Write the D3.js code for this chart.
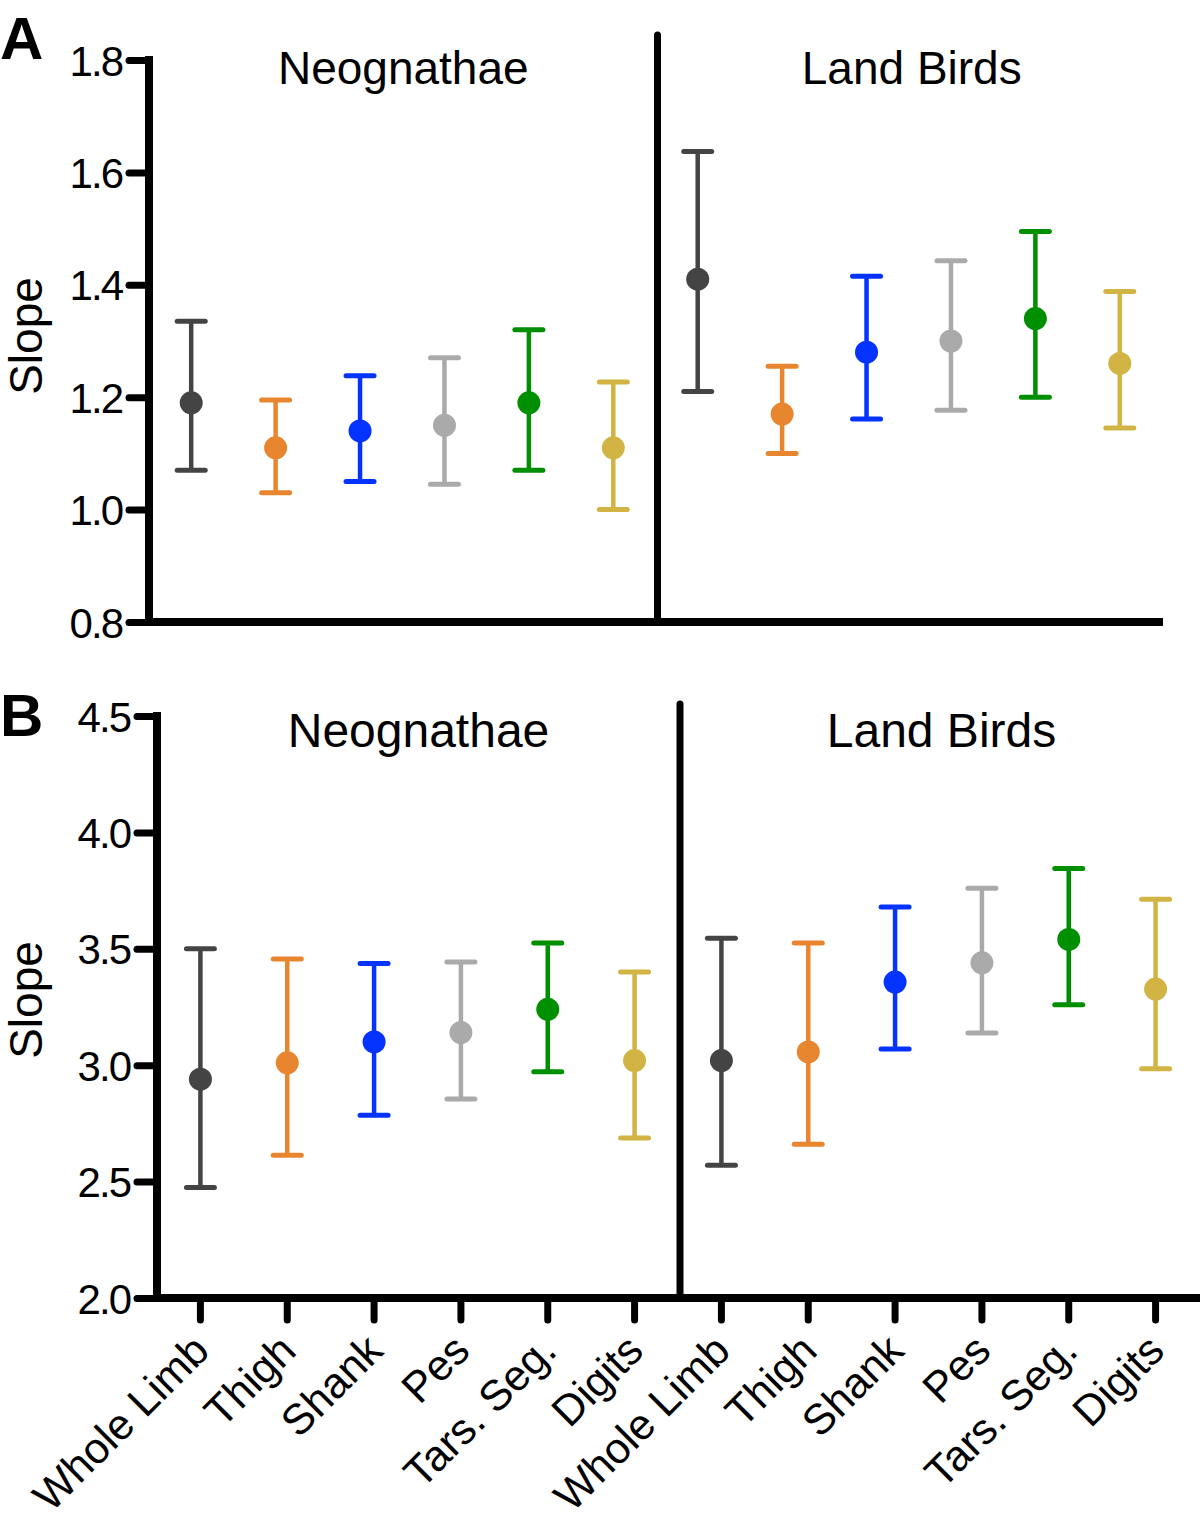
<!DOCTYPE html>
<html>
<head>
<meta charset="utf-8">
<script src="https://cdn.jsdelivr.net/npm/d3@7"></script>
<style>
  html, body { margin: 0; padding: 0; background: #fff; }
  svg { display: block; font-family: "Liberation Sans", Arial, Helvetica, sans-serif; }
</style>
</head>
<body>
<svg id="chart" width="1200" height="1519"></svg>
<script>
// ---------------- DATA ----------------
const categories = ["Whole Limb", "Thigh", "Shank", "Pes", "Tars. Seg.", "Digits"];
const groups = ["Neognathae", "Land Birds"];
const colors = ["#444444", "#E8862F", "#0433FF", "#AAAAAA", "#008F00", "#D2B445"];

// Panel A (slope, lower CI, upper CI)
const aNeoMean  = [1.19, 1.11, 1.14, 1.15, 1.19, 1.11];
const aNeoLow   = [1.07, 1.03, 1.05, 1.045, 1.07, 1.00];
const aNeoHigh  = [1.335, 1.195, 1.238, 1.27, 1.32, 1.227];
const aLandMean = [1.41, 1.17, 1.28, 1.30, 1.34, 1.26];
const aLandLow  = [1.21, 1.10, 1.161, 1.177, 1.20, 1.145];
const aLandHigh = [1.637, 1.255, 1.415, 1.443, 1.495, 1.388];
const aTicks = [0.8, 1.0, 1.2, 1.4, 1.6, 1.8];

// Panel B
const bNeoMean  = [2.94, 3.01, 3.10, 3.14, 3.24, 3.02];
const bNeoLow   = [2.475, 2.613, 2.785, 2.855, 2.972, 2.687];
const bNeoHigh  = [3.50, 3.456, 3.437, 3.443, 3.525, 3.40];
const bLandMean = [3.02, 3.057, 3.357, 3.44, 3.54, 3.327];
const bLandLow  = [2.57, 2.66, 3.07, 3.138, 3.26, 2.985];
const bLandHigh = [3.545, 3.525, 3.68, 3.76, 3.845, 3.713];
const bTicks = [2.0, 2.5, 3.0, 3.5, 4.0, 4.5];

// ---------------- DRAW ----------------
const svg = d3.select("#chart");
const allCats = [];
groups.forEach(g => categories.forEach(c => allCats.push(g + "|" + c)));

function buildRows(means, lows, highs, group) {
  return categories.map((c, i) => ({
    key: group + "|" + c, cat: c, color: colors[i],
    mean: means[i], low: lows[i], high: highs[i]
  }));
}

function panel(opts) {
  const { left, right, top, bottom, domain, ticks, rows, letter, letterY,
          titleY, dividerTop, titleSize, showX, axisRight, slopeY } = opts;
  const g = svg.append("g");
  const x = d3.scaleBand().domain(allCats).range([left, right]).padding(0);
  const y = d3.scaleLinear().domain(domain).range([bottom, top]);

  // y axis
  const yAxis = d3.axisLeft(y).tickValues(ticks).tickFormat(d3.format(".1f"))
    .tickSize(20).tickPadding(7);
  const ya = g.append("g").attr("transform", `translate(${left},0)`).call(yAxis);
  ya.select(".domain").remove();
  ya.selectAll(".tick line").attr("stroke", "#000").attr("stroke-width", 7)
    .attr("stroke-linecap", "round");
  ya.selectAll(".tick text").attr("font-size", 42).attr("fill", "#000")
    .attr("letter-spacing", "-2px").attr("dy", "0.36em");
  g.append("line").attr("x1", left).attr("x2", left)
    .attr("y1", top - 4).attr("y2", bottom + 4)
    .attr("stroke", "#000").attr("stroke-width", 8);

  // x axis line
  g.append("line").attr("x1", left - 4).attr("x2", axisRight)
    .attr("y1", bottom).attr("y2", bottom)
    .attr("stroke", "#000").attr("stroke-width", 8);

  // divider between groups
  const divX = x(groups[1] + "|" + categories[0]) + 2;
  g.append("line").attr("x1", divX).attr("x2", divX)
    .attr("y1", dividerTop).attr("y2", bottom)
    .attr("stroke", "#000").attr("stroke-width", 7).attr("stroke-linecap", "round");

  // group titles
  groups.forEach((grp, gi) => {
    const x0 = gi === 0 ? left : divX;
    const x1 = gi === 0 ? divX : right;
    g.append("text").attr("x", (x0 + x1) / 2 + (gi === 0 ? 0 : 2)).attr("y", titleY)
      .attr("text-anchor", "middle").attr("font-size", titleSize)
      .attr("fill", "#000").text(grp);
  });

  // y label
  g.append("text")
    .attr("transform", `translate(42,${slopeY}) rotate(-90)`)
    .attr("text-anchor", "middle").attr("font-size", 46).attr("fill", "#000")
    .text("Slope");

  // panel letter
  g.append("text").attr("x", 0).attr("y", letterY)
    .attr("font-size", 60).attr("font-weight", "bold").attr("fill", "#000")
    .text(letter);

  // error bars
  const capW = 14;
  const items = g.selectAll("g.item").data(rows).join("g").attr("class", "item");
  items.each(function (d) {
    const cx = x(d.key) + x.bandwidth() / 2;
    const s = d3.select(this);
    s.append("line").attr("x1", cx).attr("x2", cx)
      .attr("y1", y(d.low)).attr("y2", y(d.high))
      .attr("stroke", d.color).attr("stroke-width", 4.5);
    [d.low, d.high].forEach(v => {
      s.append("line").attr("x1", cx - capW).attr("x2", cx + capW)
        .attr("y1", y(v)).attr("y2", y(v))
        .attr("stroke", d.color).attr("stroke-width", 5).attr("stroke-linecap", "round");
    });
    s.append("circle").attr("cx", cx).attr("cy", y(d.mean)).attr("r", 11.5)
      .attr("fill", d.color);
  });

  if (showX) {
    const xAxis = d3.axisBottom(x).tickSize(22).tickFormat(k => k.split("|")[1]);
    const xa = g.append("g").attr("transform", `translate(0,${bottom})`).call(xAxis);
    xa.select(".domain").remove();
    xa.selectAll(".tick line").attr("stroke", "#000").attr("stroke-width", 7)
      .attr("stroke-linecap", "round");
    xa.selectAll(".tick text")
      .attr("font-size", 43).attr("fill", "#000")
      .attr("text-anchor", "end")
      .attr("dy", null).attr("y", null)
      .attr("transform", "translate(11,55) rotate(-45)");
  }
}

panel({
  left: 149, right: 1162, top: 60, bottom: 622, domain: [0.8, 1.8], ticks: aTicks,
  rows: buildRows(aNeoMean, aNeoLow, aNeoHigh, groups[0])
    .concat(buildRows(aLandMean, aLandLow, aLandHigh, groups[1])),
  letter: "A", letterY: 59, titleY: 84, dividerTop: 35, titleSize: 46,
  showX: false, axisRight: 1163, slopeY: 336
});

panel({
  left: 157, right: 1199, top: 716, bottom: 1298, domain: [2.0, 4.5], ticks: bTicks,
  rows: buildRows(bNeoMean, bNeoLow, bNeoHigh, groups[0])
    .concat(buildRows(bLandMean, bLandLow, bLandHigh, groups[1])),
  letter: "B", letterY: 736, titleY: 747, dividerTop: 704, titleSize: 48,
  showX: true, axisRight: 1200, slopeY: 1000
});
</script>
</body>
</html>
